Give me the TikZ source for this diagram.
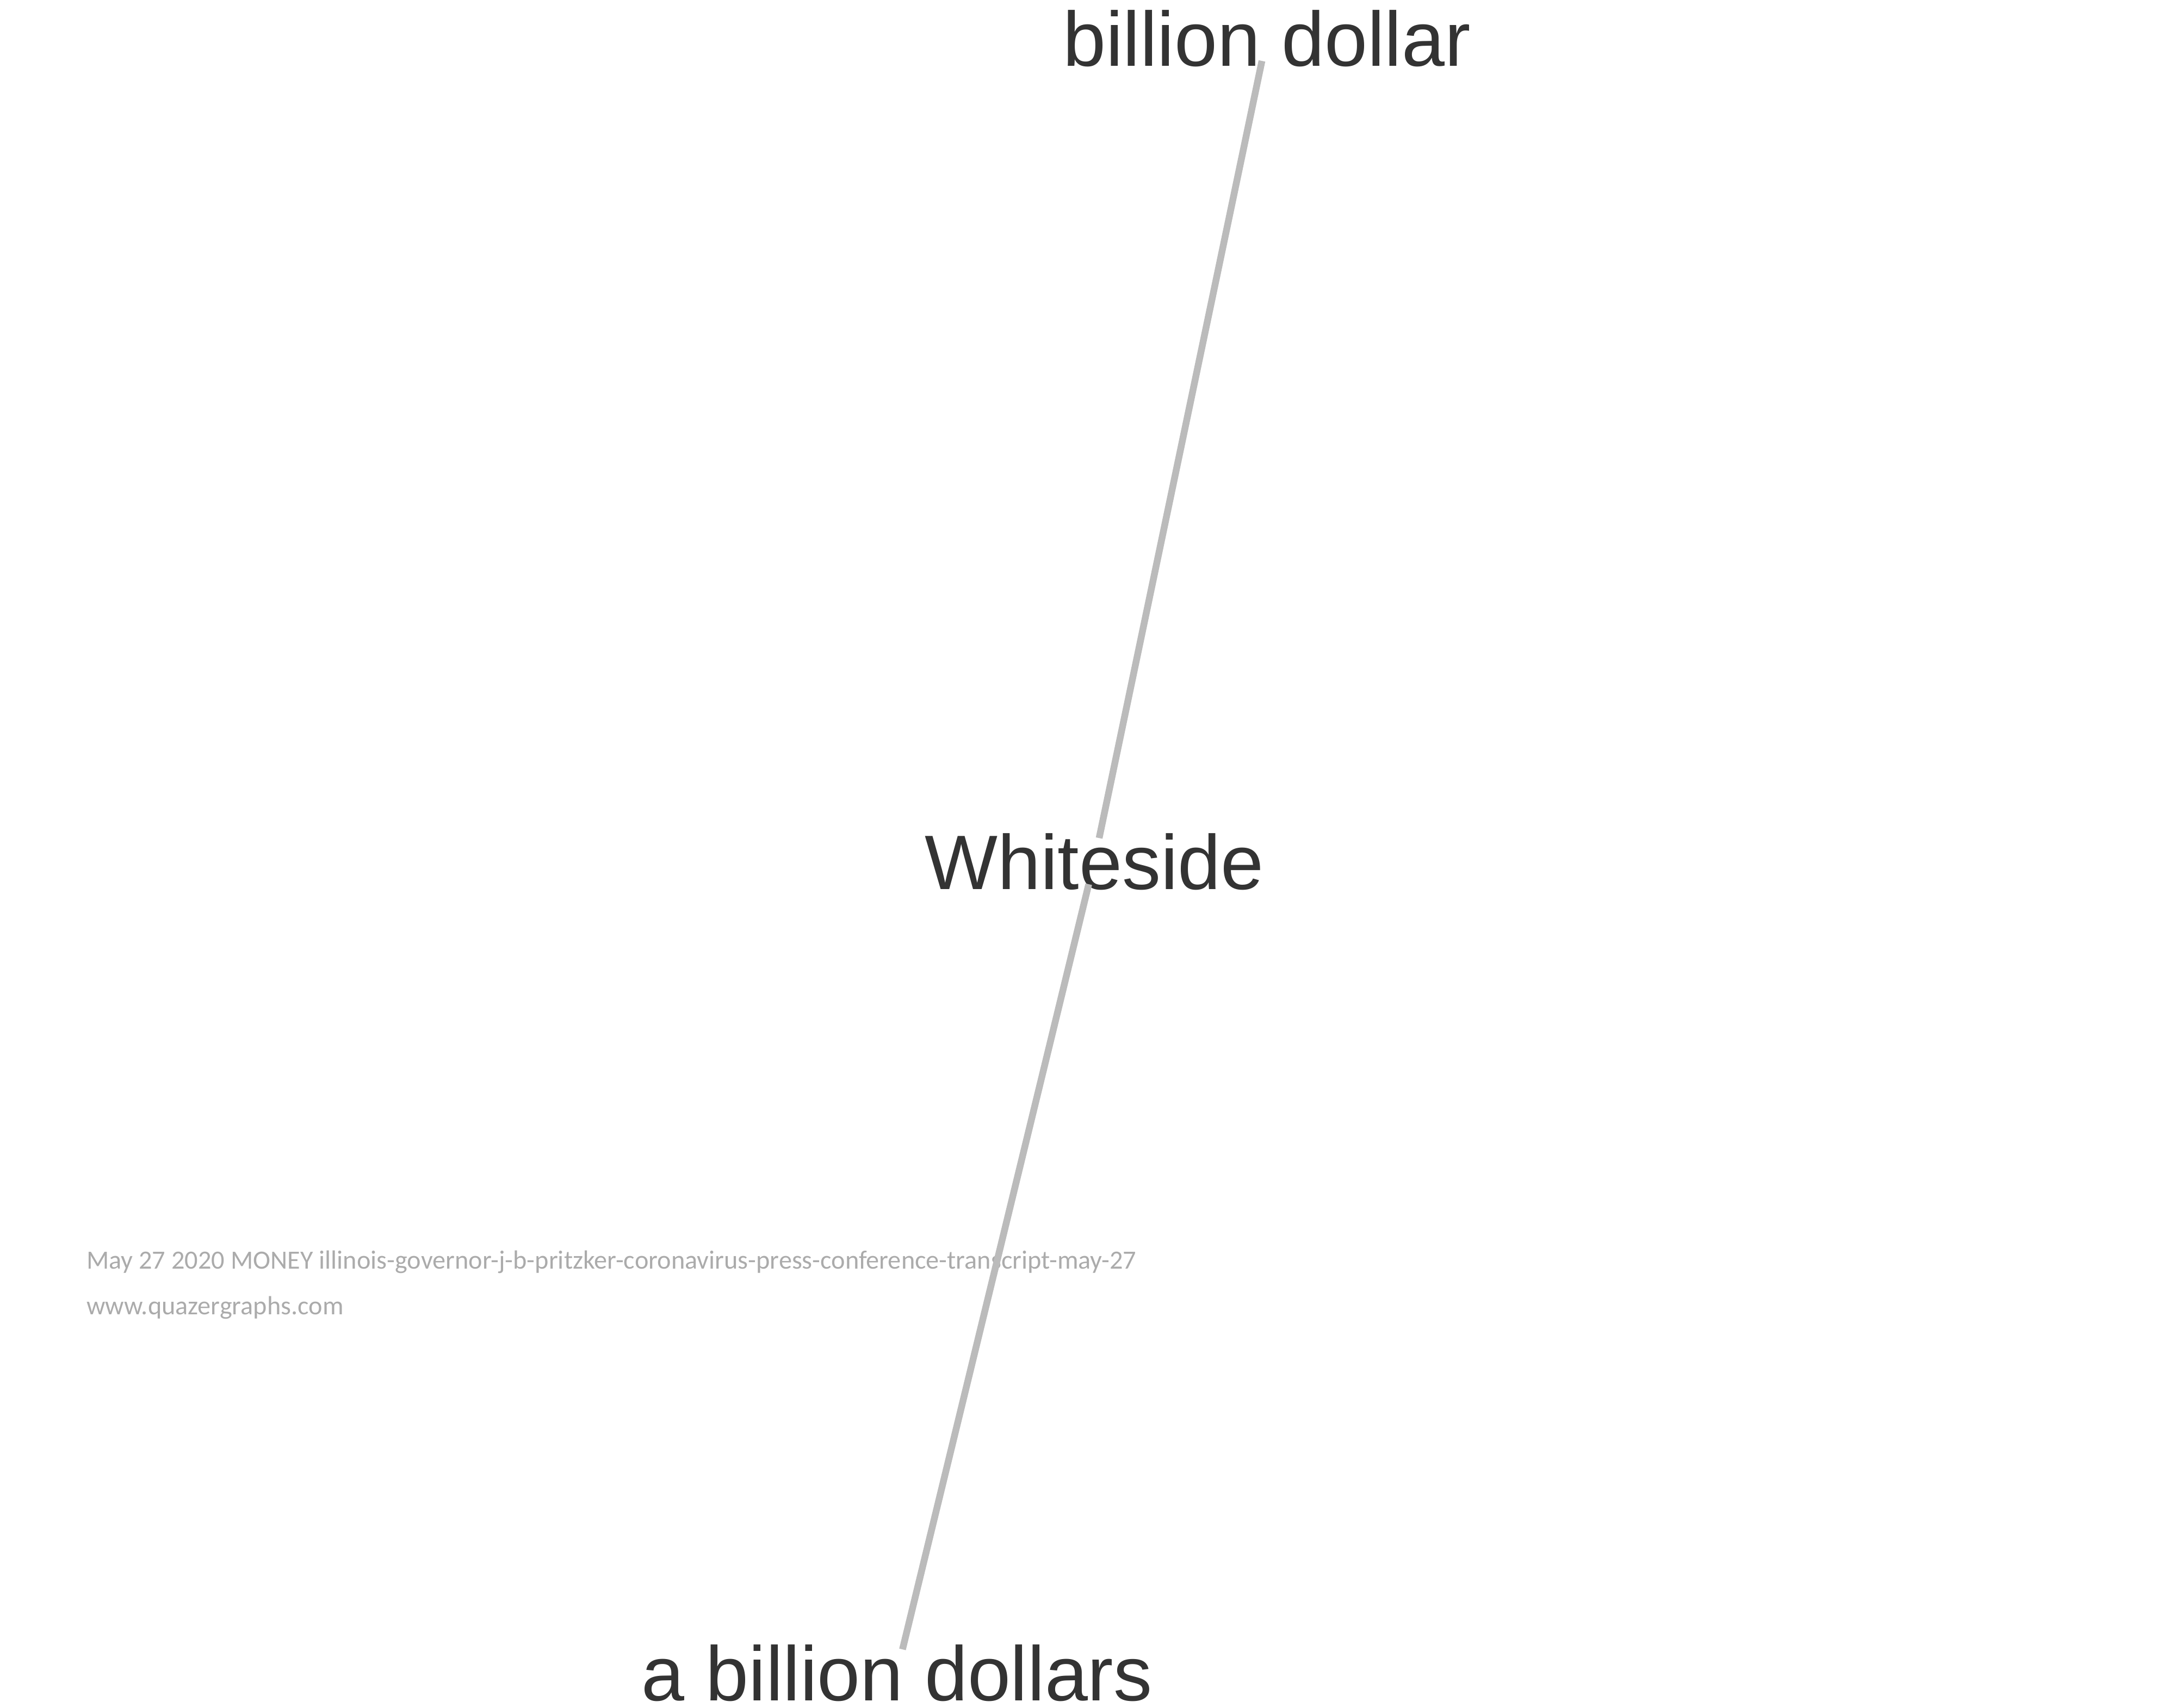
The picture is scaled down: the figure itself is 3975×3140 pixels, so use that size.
\documentclass[tikz,border=0pt]{standalone}
\usepackage{fontspec}
\setmainfont{Liberation Sans}
\newfontfamily\creditfont{Carlito}
\usepackage{xcolor}
\usepackage{tikz}
\usetikzlibrary{positioning}
\definecolor{wordgray}{HTML}{333333}
\definecolor{edgegray}{HTML}{BBBBBB}
\definecolor{creditgray}{HTML}{ABABAB}

\begin{document}
\begin{tikzpicture}[
  x=0.1pt, y=-0.1pt,
  word/.style={text=wordgray, font=\fontsize{14.2}{17}\selectfont, inner xsep=0pt, inner ysep=-1.1pt, text depth=0pt},
  credit/.style={text=creditgray, font=\creditfont\fontsize{4.83}{5.8}\selectfont, inner sep=0pt},
  edge/.style={draw=edgegray, line width=1.25pt}
]
\useasboundingbox (0,0) rectangle (3975,3140);
\node[word, anchor=base] (bd) at (2329,121) {billion dollar};
\node[word, anchor=base] (ws) at (2012,1635) {Whiteside};
\node[word, anchor=base] (abd) at (1649,3127) {a billion dollars};
\node[credit, anchor=base west] (src) at (157,2333) {May 27 2020 MONEY illinois-governor-j-b-pritzker-coronavirus-press-conference-transcript-may-27};
\node[credit, anchor=base west] (site) at (157,2417) {www.quazergraphs.com};
\draw[edge] (bd) -- (ws);
\draw[edge] (ws) -- (abd);
\end{tikzpicture}
\end{document}
